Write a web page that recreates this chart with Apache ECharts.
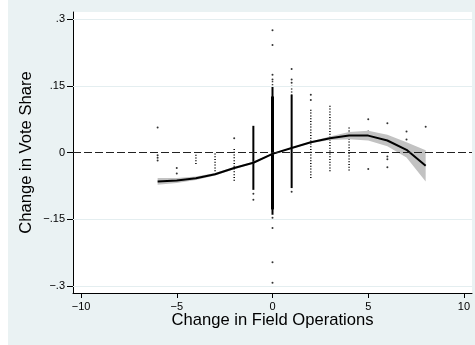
<!DOCTYPE html>
<html>
<head>
<meta charset="utf-8">
<script src="https://cdn.jsdelivr.net/npm/echarts@6/dist/echarts.min.js"></script>
<style>
  html, body { margin: 0; padding: 0; background: #fff; }
  #main { position: absolute; left: 8px; top: 0; width: 467px; height: 345px; }
</style>
</head>
<body>
<div id="main"></div>
<script>
// tick labels
var xTicks = [-10, -5, 0, 5, 10];
var yTicks = [-0.3, -0.15, 0, 0.15, 0.3];

// fitted curve and its confidence band
var fitX = [-6, -5, -4, -3, -2, -1, 0, 1, 2, 3, 4, 5, 6, 7, 8];
var fitY = [-0.065, -0.063, -0.058, -0.049, -0.035, -0.023, -0.003, 0.010, 0.023, 0.032, 0.038, 0.038, 0.027, 0.006, -0.030];
var ciLower = [-0.0725, -0.0685, -0.062, -0.052, -0.0375, -0.025, -0.0045, 0.0085, 0.021, 0.028, 0.030, 0.027, 0.014, -0.011, -0.065];
var ciUpper = [-0.0575, -0.0575, -0.054, -0.046, -0.0325, -0.021, -0.0015, 0.0115, 0.025, 0.036, 0.046, 0.049, 0.040, 0.023, 0.005];

// isolated observations [x, y]
var loosePoints = [
    [-6, 0.056], [-6, -0.006], [-6, -0.012], [-6, -0.018],
    [-5, -0.035], [-5, -0.047],
    [-2, 0.032],
    [-1, -0.093], [-1, -0.106],
    [0, 0.275], [0, 0.242], [0, 0.175], [0, 0.164], [0, -0.147], [0, -0.170], [0, -0.247], [0, -0.293],
    [1, 0.188], [1, 0.164], [1, 0.157], [1, -0.088],
    [2, 0.130], [2, 0.118],
    [5, 0.075], [5, 0.047], [5, -0.037],
    [6, 0.066], [6, -0.009], [6, -0.015], [6, -0.033],
    [7, 0.047], [7, 0.029], [7, 0.012],
    [8, 0.058]
];

// runs of overlapping observations [x, low, high]
var solidRuns = [[-1, -0.084, 0.060], [0, -0.140, 0.149], [1, -0.080, 0.130]];
var thickRuns = [[0, -0.128, 0.126]];
var dottedRuns = [
    [-4, -0.028, -0.005], [-3, -0.052, -0.002], [-2, -0.065, 0.008],
    [0, 0.149, 0.160], [1, 0.130, 0.150], [2, -0.061, 0.096],
    [3, -0.045, 0.105], [4, -0.043, 0.056]
];

function zip(xs, ys) {
    return xs.map(function (x, i) { return [x, ys[i]]; });
}

function yLabel(v) {
    if (Math.abs(v) < 1e-9) return '0';
    var s = String(Math.abs(v)).replace(/^0/, '');
    return (v < 0 ? '\u2212' : '') + s;
}

function xLabel(v) {
    return v < 0 ? '\u2212' + Math.abs(v) : String(v);
}

function runRenderer(runs, width, dotted) {
    return function (params, api) {
        var r = runs[params.dataIndex];
        var top = api.coord([r[0], r[2]]);
        var bot = api.coord([r[0], r[1]]);
        if (dotted) {
            return {
                type: 'line',
                shape: { x1: top[0], y1: top[1], x2: bot[0], y2: bot[1] },
                style: { stroke: '#000', lineWidth: width, lineDash: [1, 1.8] }
            };
        }
        return {
            type: 'rect',
            shape: { x: top[0] - width / 2, y: top[1], width: width, height: bot[1] - top[1] },
            style: { fill: '#000' }
        };
    };
}

function bandRenderer(params, api) {
    if (params.dataIndex !== 0) return null;
    var pts = [];
    for (var i = 0; i < fitX.length; i++) pts.push(api.coord([fitX[i], ciUpper[i]]));
    for (var j = fitX.length - 1; j >= 0; j--) pts.push(api.coord([fitX[j], ciLower[j]]));
    return { type: 'polygon', shape: { points: pts }, style: { fill: '#C2C2C2' } };
}

var font = 'Liberation Sans, Arial, Helvetica, sans-serif';
var myChart = echarts.init(document.getElementById('main'));

var option = {
    backgroundColor: '#EAF2F3',
    animation: false,
    grid: {
        left: 65, right: 3, top: 12, bottom: 52,
        show: true, backgroundColor: '#fff', borderWidth: 0
    },
    xAxis: {
        type: 'value',
        min: -10.42, max: 10.42,
        name: 'Change in Field Operations',
        nameLocation: 'middle',
        nameGap: 19,
        nameMoveOverlap: false,
        nameTextStyle: { fontFamily: font, fontSize: 16.6, color: '#000' },
        axisLine: { onZero: false, lineStyle: { color: '#000', width: 1 } },
        axisTick: { show: true, length: 5, customValues: xTicks, lineStyle: { color: '#000' } },
        axisLabel: { customValues: xTicks, formatter: xLabel, margin: 8, fontFamily: font, fontSize: 11, color: '#000' },
        splitLine: { show: false }
    },
    yAxis: {
        type: 'value',
        min: -0.316, max: 0.316,
        name: 'Change in Vote Share',
        nameLocation: 'middle',
        nameGap: 38,
        nameMoveOverlap: false,
        nameTextStyle: { fontFamily: font, fontSize: 16.6, color: '#000' },
        axisLine: { show: true, onZero: false, lineStyle: { color: '#000', width: 1 } },
        axisTick: { show: true, length: 6, customValues: yTicks, lineStyle: { color: '#000' } },
        axisLabel: { customValues: yTicks, formatter: yLabel, margin: 8, fontFamily: font, fontSize: 11, color: '#000' },
        splitLine: { show: false }
    },
    series: [
        {
            // grid lines and the dashed reference line at zero
            type: 'scatter',
            data: [],
            z: 1,
            markLine: {
                silent: true,
                symbol: 'none',
                label: { show: false },
                data: yTicks.filter(function (v) { return v !== 0; }).map(function (v) {
                    return { yAxis: v, lineStyle: { color: '#E4EEF0', width: 1, type: 'solid' } };
                }).concat([{ yAxis: 0, lineStyle: { color: '#222', width: 1.2, type: [8, 3] } }])
            }
        },
        {
            type: 'scatter',
            data: loosePoints,
            symbolSize: 2,
            itemStyle: { color: '#000' },
            z: 2
        },
        {
            type: 'custom',
            data: solidRuns,
            renderItem: runRenderer(solidRuns, 2, false),
            z: 2
        },
        {
            type: 'custom',
            data: thickRuns,
            renderItem: runRenderer(thickRuns, 3, false),
            z: 2
        },
        {
            type: 'custom',
            data: dottedRuns,
            renderItem: runRenderer(dottedRuns, 1.5, true),
            z: 2
        },
        {
            type: 'custom',
            data: zip(fitX, fitY),
            renderItem: bandRenderer,
            z: 3
        },
        {
            type: 'line',
            data: zip(fitX, fitY),
            symbol: 'none',
            lineStyle: { color: '#000', width: 2 },
            z: 4
        }
    ]
};
myChart.setOption(option);
</script>
</body>
</html>
